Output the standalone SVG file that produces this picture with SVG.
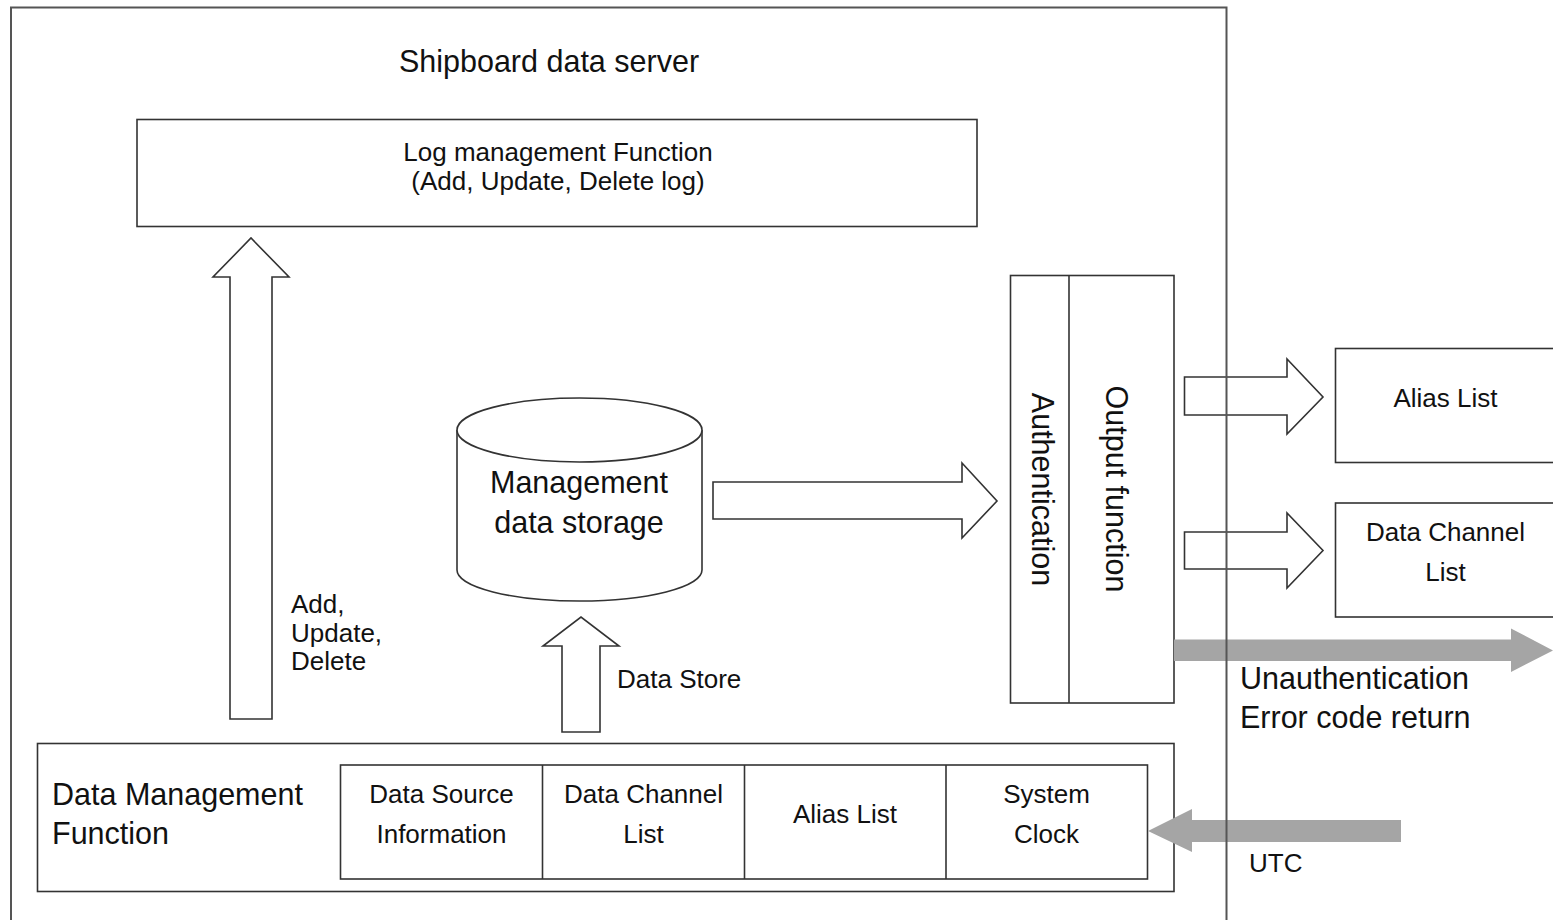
<svg xmlns="http://www.w3.org/2000/svg" width="1553" height="920" viewBox="0 0 1553 920">
<style>
  text { font-family: "Liberation Sans", Arial, sans-serif; fill: #111; }
  .s26 { font-size: 26px; }
  .s30 { font-size: 30.5px; }
  .mid { text-anchor: middle; }
  .box { fill: #fff; stroke: #333; stroke-width: 1.6; }
  .line { fill: none; stroke: #333; stroke-width: 1.6; }
  .barrow { fill: #fff; stroke: #333; stroke-width: 1.6; stroke-linejoin: miter; }
  .garrow { fill: #a5a5a5; stroke: none; }
  .frame { fill: none; stroke: #555; stroke-width: 2; }
</style>
<rect x="0" y="0" width="1553" height="920" fill="#fff"/>

<g id="log-management">
  <rect class="box" x="137" y="119.5" width="840" height="107"/>
  <text class="s26 mid" x="558" y="161">Log management Function</text>
  <text class="s26 mid" x="558" y="190">(Add, Update, Delete log)</text>
</g>

<g id="management-data-storage">
  <path class="box" d="M457,430 L457,570 A122.5,31 0 0 0 702,570 L702,430"/>
  <ellipse class="box" cx="579.5" cy="430" rx="122.5" ry="32"/>
  <text class="s30 mid" x="579" y="493">Management</text>
  <text class="s30 mid" x="579" y="533">data storage</text>
</g>

<g id="auth-output">
  <rect class="box" x="1010.5" y="275.5" width="163.5" height="427.5"/>
  <line class="line" x1="1069" y1="275.5" x2="1069" y2="703"/>
  <text class="s30 mid" transform="translate(1032,489.5) rotate(90)">Authentication</text>
  <text class="s30 mid" transform="translate(1106,489) rotate(90)">Output function</text>
</g>

<g id="alias-list-out">
  <rect class="box" x="1335.5" y="348.5" width="230" height="114"/>
  <text class="s26 mid" x="1445.5" y="407">Alias List</text>
</g>

<g id="data-channel-list-out">
  <rect class="box" x="1335.5" y="503" width="230" height="114"/>
  <text class="s26 mid" x="1445.5" y="541">Data Channel</text>
  <text class="s26 mid" x="1445.5" y="581">List</text>
</g>

<g id="data-management">
  <rect class="box" x="37.5" y="743.5" width="1136.5" height="148"/>
  <text class="s30" x="52" y="805">Data Management</text>
  <text class="s30" x="52" y="844">Function</text>
  <rect class="box" x="340.5" y="765" width="807" height="114"/>
  <line class="line" x1="542.5" y1="765" x2="542.5" y2="879"/>
  <line class="line" x1="744.5" y1="765" x2="744.5" y2="879"/>
  <line class="line" x1="946" y1="765" x2="946" y2="879"/>
  <text class="s26 mid" x="441.5" y="803">Data Source</text>
  <text class="s26 mid" x="441.5" y="843">Information</text>
  <text class="s26 mid" x="643.5" y="803">Data Channel</text>
  <text class="s26 mid" x="643.5" y="843">List</text>
  <text class="s26 mid" x="845" y="823">Alias List</text>
  <text class="s26 mid" x="1046.5" y="803">System</text>
  <text class="s26 mid" x="1046.5" y="843">Clock</text>
</g>

<g id="connectors">
  <polygon class="barrow" points="230,719 272,719 272,277 289,277 251,238 213,277 230,277"/>
  <text class="s26" x="291" y="613">Add,</text>
  <text class="s26" x="291" y="642">Update,</text>
  <text class="s26" x="291" y="670">Delete</text>

  <polygon class="barrow" points="562,732 600,732 600,646 619,646 581,617 543,646 562,646"/>
  <text class="s26" x="617" y="688">Data Store</text>

  <polygon class="barrow" points="713,482 962,482 962,463 997,501 962,538 962,519 713,519"/>

  <polygon class="barrow" points="1184.5,377 1287,377 1287,359 1323,397 1287,434 1287,415 1184.5,415"/>
  <polygon class="barrow" points="1184.5,532 1287,532 1287,513 1323,550.5 1287,588 1287,569 1184.5,569"/>

  <polygon class="garrow" points="1174,639.5 1511,639.5 1511,628.5 1553,650.5 1511,672 1511,661 1174,661"/>
  <text class="s30" x="1240" y="689">Unauthentication</text>
  <text class="s30" x="1240" y="728">Error code return</text>

  <polygon class="garrow" points="1401,820 1192,820 1192,809 1148,831 1192,852 1192,842 1401,842"/>
  <text class="s26" x="1249" y="872">UTC</text>
</g>

<g id="shipboard-data-server">
  <rect class="frame" x="11" y="7.5" width="1215.5" height="940"/>
  <text class="s30 mid" x="549" y="72">Shipboard data server</text>
</g>
</svg>
